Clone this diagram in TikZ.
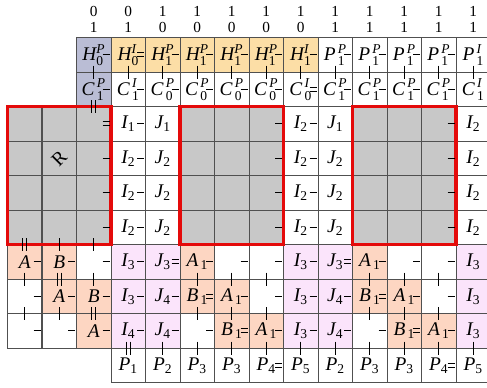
\documentclass[tikz,border=0pt]{standalone}
\usepackage{amsmath}
\usepackage{fontspec}
\setmainfont{Liberation Serif}
\usetikzlibrary{calc}
\definecolor{cB}{RGB}{186,189,213}
\definecolor{cO}{RGB}{252,222,166}
\definecolor{cG}{RGB}{200,200,200}
\definecolor{cS}{RGB}{253,214,194}
\definecolor{cP}{RGB}{251,228,251}
\definecolor{cW}{RGB}{255,255,255}
\definecolor{redc}{RGB}{228,10,10}
\definecolor{gridc}{RGB}{80,80,80}
\newcommand\lb[3]{$\textit{#1}^{\textit{#2}}_{\textup{#3}}$}
\newcommand\lbs[3]{$\textit{#1}^{\,\textit{#2}}_{\,\textup{#3}}$}
\newcommand\ls[2]{$\textit{#1}_{\textup{#2}}$}
\newcommand\lsa[2]{$\textit{#1}_{\,\textup{#2}}$}
\newcommand\lblfont{\fontsize{14.5}{16}\selectfont}
\newcommand\hdrfont{\fontsize{11.5}{13}\selectfont}
\newcommand\hbond[3]{%
  \ifnum#3=1
    \draw[bond] ($(k-#1-#2.west)+(-8.5,0)$) -- ($(k-#1-#2.west)+(-1.2,0)$);
  \else
    \draw[bond] ($(k-#1-#2.west)+(-8.5,-2)$) -- ($(k-#1-#2.west)+(-1.2,-2)$);
    \draw[bond] ($(k-#1-#2.west)+(-8.5,2)$) -- ($(k-#1-#2.west)+(-1.2,2)$);
  \fi}
\newcommand\vbond[3]{%
  \ifnum#3=1
    \draw[bond] ($(k-#1-#2.north)+(0,-6.5)$) -- ($(k-#1-#2.north)+(0,6.5)$);
  \else
    \draw[bond] ($(k-#1-#2.north)+(-2,-6.5)$) -- ($(k-#1-#2.north)+(-2,6.5)$);
    \draw[bond] ($(k-#1-#2.north)+(2,-6.5)$) -- ($(k-#1-#2.north)+(2,6.5)$);
  \fi}
\begin{document}
\begin{tikzpicture}[x=0.75pt,y=-0.75pt,
  cell/.style={draw=gridc, line width=0.75pt, minimum width=25.875pt, minimum height=25.875pt,
    inner sep=0pt, outer sep=0pt},
  lbl/.style={font=\lblfont, inner sep=0pt},
  hdr/.style={font=\hdrfont, inner sep=0pt},
  bond/.style={line width=0.8pt, black},
  redbox/.style={draw=redc, line width=2.4pt}]
\useasboundingbox (0,0) rectangle (487,387);
% cells
\foreach \r/\lst in {
  0/{2/B,3/O,4/O,5/O,6/O,7/O,8/O,9/W,10/W,11/W,12/W,13/W},
  1/{2/B,3/W,4/W,5/W,6/W,7/W,8/W,9/W,10/W,11/W,12/W,13/W},
  2/{0/G,1/G,2/G,3/W,4/W,5/G,6/G,7/G,8/W,9/W,10/G,11/G,12/G,13/W},
  3/{0/G,1/G,2/G,3/W,4/W,5/G,6/G,7/G,8/W,9/W,10/G,11/G,12/G,13/W},
  4/{0/G,1/G,2/G,3/W,4/W,5/G,6/G,7/G,8/W,9/W,10/G,11/G,12/G,13/W},
  5/{0/G,1/G,2/G,3/W,4/W,5/G,6/G,7/G,8/W,9/W,10/G,11/G,12/G,13/W},
  6/{0/S,1/S,2/W,3/P,4/P,5/S,6/W,7/W,8/P,9/P,10/S,11/W,12/W,13/P},
  7/{0/W,1/S,2/S,3/P,4/P,5/S,6/S,7/W,8/P,9/P,10/S,11/S,12/W,13/P},
  8/{0/W,1/W,2/S,3/P,4/P,5/W,6/S,7/S,8/P,9/P,10/W,11/S,12/S,13/P},
  9/{3/W,4/W,5/W,6/W,7/W,8/W,9/W,10/W,11/W,12/W,13/W}}{
  \foreach \c/\f in \lst {
    \node[cell, fill=c\f] (k-\r-\c) at ({24.75+34.5*\c},{54.95+34.5*\r}) {};
  }
}
% header digits
\foreach \c/\a/\b in {2/0/1,3/0/1,4/1/0,5/1/0,6/1/0,7/1/0,8/1/0,9/1/1,10/1/1,11/1/1,12/1/1,13/1/1}{
  \node[hdr] (ha-\c) at ({24.75+34.5*\c},11.5) {\a};
  \node[hdr] (hb-\c) at ({24.75+34.5*\c},27.5) {\b};
}
% labels
\foreach \r/\c/\t in {
  0/2/{\lb{H}{P}{0}},0/3/{\lb{H}{I}{0}},0/4/{\lb{H}{P}{1}},0/5/{\lb{H}{P}{1}},0/6/{\lb{H}{P}{1}},
  0/7/{\lb{H}{P}{1}},0/8/{\lb{H}{I}{1}},0/9/{\lbs{P}{P}{1}},0/10/{\lbs{P}{P}{1}},0/11/{\lbs{P}{P}{1}},
  0/12/{\lbs{P}{P}{1}},0/13/{\lbs{P}{I}{1}},
  1/2/{\lbs{C}{P}{1}},1/3/{\lbs{C}{I}{1}},1/4/{\lbs{C}{P}{0}},1/5/{\lbs{C}{P}{0}},1/6/{\lbs{C}{P}{0}},
  1/7/{\lbs{C}{P}{0}},1/8/{\lbs{C}{I}{0}},1/9/{\lbs{C}{P}{1}},1/10/{\lbs{C}{P}{1}},1/11/{\lbs{C}{P}{1}},
  1/12/{\lbs{C}{P}{1}},1/13/{\lbs{C}{I}{1}},
  2/3/{\ls{I}{1}},2/4/{\ls{J}{1}},2/8/{\ls{I}{2}},2/9/{\ls{J}{1}},2/13/{\ls{I}{2}},
  3/3/{\ls{I}{2}},3/4/{\ls{J}{2}},3/8/{\ls{I}{2}},3/9/{\ls{J}{2}},3/13/{\ls{I}{2}},
  4/3/{\ls{I}{2}},4/4/{\ls{J}{2}},4/8/{\ls{I}{2}},4/9/{\ls{J}{2}},4/13/{\ls{I}{2}},
  5/3/{\ls{I}{2}},5/4/{\ls{J}{2}},5/8/{\ls{I}{2}},5/9/{\ls{J}{2}},5/13/{\ls{I}{2}},
  6/0/{\textit{A}},6/1/{\textit{B}},6/3/{\ls{I}{3}},6/4/{\ls{J}{3}},6/5/{\lsa{A}{1}},
  6/8/{\ls{I}{3}},6/9/{\ls{J}{3}},6/10/{\lsa{A}{1}},6/13/{\ls{I}{3}},
  7/1/{\textit{A}},7/2/{\textit{B}},7/3/{\ls{I}{3}},7/4/{\ls{J}{4}},7/5/{\lsa{B}{1}},7/6/{\lsa{A}{1}},
  7/8/{\ls{I}{3}},7/9/{\ls{J}{4}},7/10/{\lsa{B}{1}},7/11/{\lsa{A}{1}},7/13/{\ls{I}{3}},
  8/2/{\textit{A}},8/3/{\ls{I}{4}},8/4/{\ls{J}{4}},8/6/{\lsa{B}{1}},8/7/{\lsa{A}{1}},
  8/8/{\ls{I}{3}},8/9/{\ls{J}{4}},8/11/{\lsa{B}{1}},8/12/{\lsa{A}{1}},8/13/{\ls{I}{3}},
  9/3/{\ls{P}{1}},9/4/{\ls{P}{2}},9/5/{\ls{P}{3}},9/6/{\ls{P}{3}},9/7/{\ls{P}{4}},9/8/{\ls{P}{5}},
  9/9/{\ls{P}{2}},9/10/{\ls{P}{3}},9/11/{\ls{P}{3}},9/12/{\ls{P}{4}},9/13/{\ls{P}{5}}}{
  \node[lbl] (t-\r-\c) at (k-\r-\c) {\t};
}
\node[lbl, rotate=45] (rlabel) at (k-3-1) {R};
% red boxes
\draw[redbox] (k-2-0.north west) rectangle (k-5-2.south east);
\draw[redbox] (k-2-5.north west) rectangle (k-5-7.south east);
\draw[redbox] (k-2-10.north west) rectangle (k-5-12.south east);
% horizontal bonds
\foreach \r/\c/\n in {0/3/1,0/4/2,0/5/1,0/6/1,0/7/1,0/8/1,0/9/1,0/10/1,0/11/1,0/12/1,0/13/1,
  1/3/1,1/4/1,1/5/1,1/6/1,1/7/1,1/8/1,1/9/2,1/10/1,1/11/1,1/12/1,1/13/1,
  2/3/2,2/4/1,2/8/1,2/9/1,2/13/1,
  3/3/1,3/4/1,3/8/1,3/9/1,3/13/1,
  4/3/1,4/4/1,4/8/1,4/9/1,4/13/1,
  5/3/1,5/4/1,5/8/1,5/9/1,5/13/1,
  9/8/2,9/13/2}{\hbond{\r}{\c}{\n}}
\foreach \r/\da/\db in {6/5/10,7/6/11,8/7/12}{
  \foreach \c in {1,...,13}{
    \pgfmathtruncatemacro\nn{(\c==\da || \c==\db) ? 2 : 1}
    \hbond{\r}{\c}{\nn}
  }
}
% vertical bonds
\foreach \r/\c/\n in {1/2/1,1/3/1,1/4/1,1/5/1,1/6/1,1/7/1,1/8/1,1/9/1,1/10/1,1/11/1,1/12/1,1/13/1,
  2/2/2,
  6/0/2,6/1/1,6/2/1,
  7/0/1,7/1/2,7/2/1,7/5/1,7/6/1,7/7/1,7/10/1,7/11/1,7/12/1,
  8/0/1,8/1/1,8/2/2,8/5/1,8/6/1,8/7/1,8/10/1,8/11/1,8/12/1,
  9/3/2,9/4/1,9/5/1,9/6/1,9/7/1,9/8/1,9/9/1,9/10/1,9/11/1,9/12/1,9/13/1}{\vbond{\r}{\c}{\n}}
\end{tikzpicture}
\end{document}
